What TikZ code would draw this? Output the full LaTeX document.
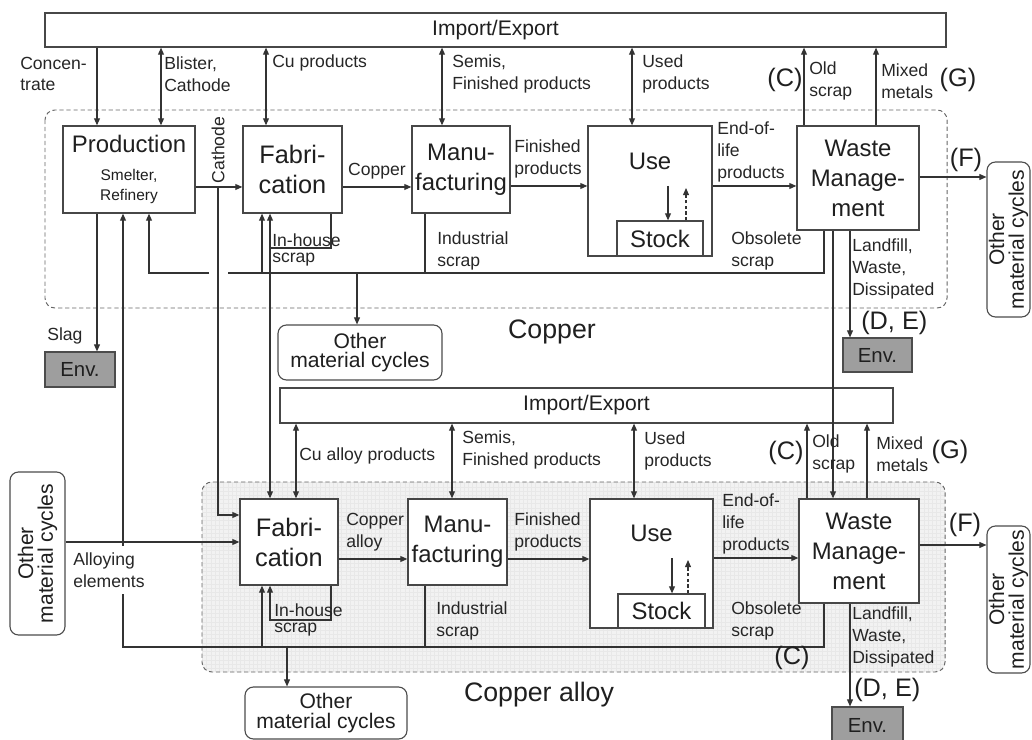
\documentclass[tikz,border=0pt]{standalone}
\usepackage{fontspec}
\setmainfont{Liberation Sans}
\usetikzlibrary{arrows.meta,patterns}
\newlength\pxu
\setlength\pxu{0.025cm}
\newcommand{\fbig}{\fontsize{17}{21.3}\selectfont}
\newcommand{\ffab}{\fontsize{18}{21.3}\selectfont}
\newcommand{\flbl}{\fontsize{12.5}{15.5}\selectfont}
\newcommand{\fhouse}{\fontsize{12.5}{11.5}\selectfont}
\newcommand{\fsm}{\fontsize{11}{14}\selectfont}
\newcommand{\fcyc}{\fontsize{15}{14}\selectfont}
\newcommand{\fenv}{\fontsize{14.5}{17}\selectfont}
\newcommand{\fref}{\fontsize{18}{20}\selectfont}
\newcommand{\ftitle}{\fontsize{19}{22}\selectfont}
\newcommand{\fie}{\fontsize{15}{18}\selectfont}
\tikzset{
  hd/.tip={Triangle[length=5pt,width=4.2pt]},
  sz/.style 2 args={minimum width=#1*\pxu, minimum height=#2*\pxu},
  blk/.style={draw=black!72, line width=0.9pt, fill=white, align=center,
    inner sep=0pt, font=\fbig, text=black!88},
  iebox/.style={blk, font=\fie},
  envbox/.style={draw=black!70, line width=0.8pt, fill=black!38, inner sep=0pt,
    font=\fenv, text=black!88},
  cyc/.style={draw=black!70, line width=0.8pt, rounded corners=6pt, fill=white,
    align=center, inner sep=0pt, font=\fcyc, text=black!88},
  zone/.style={draw=black!60, line width=0.7pt, dash pattern=on 3pt off 2pt,
    rounded corners=7pt},
  zonefill/.style={preaction={fill=black!5}, pattern=grid, pattern color=black!9},
  ln/.style={line width=0.75pt, draw=black!80},
  arr/.style={ln, -hd},
  darr/.style={ln, hd-hd},
  dsharr/.style={ln, -hd, dash pattern=on 2.5pt off 1.5pt},
  lbl/.style={font=\flbl, align=left, anchor=west, inner sep=0pt, text=black!85},
  ref/.style={font=\fref, inner sep=0pt, text=black!88},
  sect/.style={font=\ftitle, inner sep=0pt, text=black!88},
}

\begin{document}
\begin{tikzpicture}[x=0.025cm, y=-0.025cm]
\useasboundingbox (0,0) rectangle (1032,740);
\clip (0,0) rectangle (1032,740);

% system boundaries
\draw[zone] (45,110) rectangle (947,308);
\draw[zone, zonefill] (202,482) rectangle (945,672);

% copper cycle
\node[iebox, sz={901}{34}] (ie1) at (495.5,30) {Import/Export};
\node[blk, sz={132}{87}] (prod) at (129,169.5) {Production\\[-1.5pt]{\fsm Smelter,}\\[-7pt]{\fsm Refinery}};
\node[blk, font=\ffab, sz={99}{87}] (fab1) at (292.5,169.5) {Fabri-\\cation};
\node[blk, sz={98}{87}] (man1) at (461,169.5) {Manu-\\facturing};
\node[blk, sz={124}{130}, text height=8.5pt, text depth=39pt] (use1) at (650,191) {Use};
\node[blk, sz={86}{35}] (stock1) at (660,238.5) {Stock};
\node[blk, sz={122}{104}] (waste1) at (858,178) {Waste\\Manage-\\ment};
\node[envbox, sz={70}{35}] (env1) at (80,369.5) {Env.};
\node[envbox, sz={69}{34}] (env2) at (877.5,355) {Env.};
\node[cyc, sz={164}{55}] (omc1) at (360,352.5) {Other\\material cycles};
\node[cyc, rotate=90, sz={155}{43}] (omc2) at (1008.5,239.5) {Other\\material cycles};

% copper alloy cycle
\node[iebox, sz={613}{35}] (ie2) at (586.5,405.5) {Import/Export};
\node[blk, font=\ffab, sz={98}{86}] (fab2) at (289,542) {Fabri-\\cation};
\node[blk, sz={99}{86}] (man2) at (457.5,542) {Manu-\\facturing};
\node[blk, sz={123}{129}, text height=8.5pt, text depth=40pt] (use2) at (651.5,563.5) {Use};
\node[blk, sz={87}{34}] (stock2) at (661.5,611) {Stock};
\node[blk, sz={120}{104}] (waste2) at (859,551) {Waste\\Manage-\\ment};
\node[envbox, sz={71}{36}] (env3) at (867.5,725) {Env.};
\node[cyc, rotate=90, sz={163}{55}] (omc3) at (37.5,553.5) {Other\\material cycles};
\node[cyc, sz={162}{52}] (omc4) at (326,713) {Other\\material cycles};
\node[cyc, rotate=90, sz={147}{43}] (omc5) at (1008.5,599.5) {Other\\material cycles};

\coordinate (cat) at (218,187);
\coordinate (s1) at (228,273);
\coordinate (s2) at (209,273);
\coordinate (u1) at (668,186);
\coordinate (u2) at (686,188);
\coordinate (u3) at (672,558);
\coordinate (u4) at (688,560);

% flows, copper
\draw[arr] (ie1.south -| 97,0) -- (prod.north -| 97,0);
\draw[darr] (ie1.south -| 161,0) -- (prod.north -| 161,0);
\draw[darr] (ie1.south -| 266,0) -- (fab1.north -| 266,0);
\draw[darr] (ie1.south -| 442,0) -- (man1.north -| 442,0);
\draw[darr] (ie1.south -| 632,0) -- (use1.north -| 632,0);
\draw[arr] (waste1.north -| 804,0) -- (ie1.south -| 804,0);
\draw[arr] (waste1.north -| 876,0) -- (ie1.south -| 876,0);
\draw[arr] (prod.east |- cat) -- (fab1.west |- cat);
\draw[arr] (fab1.east |- cat) -- (man1.west |- cat);
\draw[arr] (man1.east |- u1) -- (use1.west |- u1);
\draw[arr] (use1.east |- u1) -- (waste1.west |- u1);
\draw[arr] (waste1.east |- 0,177) -- (omc2.north |- 0,177);
\draw[arr] (u1) -- (stock1.north -| u1);
\draw[dsharr] (stock1.north -| u2) -- (u2);
\draw[arr] (waste1.south -| 850,0) -- (env2.north -| 850,0);
\draw[arr] (waste1.south -| 833,0) -- (waste2.north -| 833,0);
\draw[ln] (waste1.south -| 824,0) |- (s1);
\draw[arr] (s2) -| (prod.south -| 149,0);
\draw[ln] (man1.south -| 425,0) -- (425,273);
\draw[arr] (262,273) -- (fab1.south -| 262,0);
\draw[ln] (fab1.south -| 331,0) |- (270,248);
\draw[darr] (fab1.south -| 270,0) -- (fab2.north -| 270,0);
\draw[arr] (357,273) -- (omc1.north -| 357,0);
\draw[arr] (prod.south -| 97,0) -- (env1.north -| 97,0);
\draw[arr] (cat) |- (fab2.west |- 0,515);

% flows, copper alloy
\draw[darr] (ie2.south -| 296,0) -- (fab2.north -| 296,0);
\draw[darr] (ie2.south -| 452,0) -- (man2.north -| 452,0);
\draw[darr] (ie2.south -| 634,0) -- (use2.north -| 634,0);
\draw[arr] (waste2.north -| 807,0) -- (ie2.south -| 807,0);
\draw[arr] (waste2.north -| 867,0) -- (ie2.south -| 867,0);
\draw[arr] (fab2.east |- 0,559) -- (man2.west |- 0,559);
\draw[arr] (man2.east |- 0,559) -- (use2.west |- 0,559);
\draw[arr] (use2.east |- 0,558) -- (waste2.west |- 0,558);
\draw[arr] (waste2.east |- 0,545) -- (omc5.north |- 0,545);
\draw[arr] (u3) -- (stock2.north -| u3);
\draw[dsharr] (stock2.north -| u4) -- (u4);
\draw[arr] (waste2.south -| 850,0) -- (env3.north -| 850,0);
\draw[arr] (waste2.south -| 824,0) |- (123,647) -- (prod.south -| 123,0);
\draw[ln] (man2.south -| 425,0) -- (425,647);
\draw[arr] (262,647) -- (fab2.south -| 262,0);
\draw[arr] (fab2.south -| 331,0) |- (270,620) -- (fab2.south -| 270,0);
\draw[arr] (287,647) -- (omc4.north -| 287,0);

% labels, copper
\node[lbl] (lconc) at (20,74) {Concen-\\trate};
\node[lbl] (lblis) at (164,74) {Blister,\\Cathode};
\node[lbl] (lcup) at (272,63) {Cu products};
\node[lbl] (lsemi1) at (452,74) {Semis,\\Finished products};
\node[lbl] (lused1) at (642,74) {Used\\products};
\node[ref] (rc1) at (785,80) {(C)};
\node[lbl] (lold1) at (809,81) {Old\\scrap};
\node[lbl] (lmix1) at (881,81) {Mixed\\metals};
\node[ref] (rg1) at (958,80) {(G)};
\node[lbl, rotate=90, anchor=center] (lcath) at (218,150) {Cathode};
\node[lbl, anchor=center] (lcop) at (377,171) {Copper};
\node[lbl] (lfin1) at (514,159) {Finished\\products};
\node[lbl] (leol1) at (717,152) {End-of-\\life\\products};
\node[ref] (rf1) at (966,160) {(F)};
\node[lbl, font=\fhouse] (lhouse1) at (272,250) {In-house\\scrap};
\node[lbl] (lind1) at (437,251) {Industrial\\scrap};
\node[lbl] (lobs1) at (731,251) {Obsolete\\scrap};
\node[lbl] (lland1) at (852,269) {Landfill,\\Waste,\\Dissipated};
\node[ref, anchor=west] (rde1) at (861,323) {(D, E)};
\node[lbl] (lslag) at (47,336) {Slag};
\node[sect] (tcop) at (552,332) {Copper};

% labels, copper alloy
\node[lbl] (lcua) at (299,456) {Cu alloy products};
\node[lbl] (lsemi2) at (462,450) {Semis,\\Finished products};
\node[lbl] (lused2) at (644,451) {Used\\products};
\node[ref] (rc2) at (786,453) {(C)};
\node[lbl] (lold2) at (812,454) {Old\\scrap};
\node[lbl] (lmix2) at (876,454) {Mixed\\metals};
\node[ref] (rg2) at (950,452) {(G)};
\node[lbl, fill=white, inner ysep=5pt] (lalloy) at (73,570) {Alloying\\elements};
\draw[arr] (omc3.south |- 0,542) -- (fab2.west |- 0,542);
\node[lbl] (lcopa) at (346,532) {Copper\\alloy};
\node[lbl] (lfin2) at (514,532) {Finished\\products};
\node[lbl] (leol2) at (722,524) {End-of-\\life\\products};
\node[ref] (rf2) at (965,525) {(F)};
\node[lbl, font=\fhouse] (lhouse2) at (274,620) {In-house\\scrap};
\node[lbl] (lind2) at (436,621) {Industrial\\scrap};
\node[lbl] (lobs2) at (731,621) {Obsolete\\scrap};
\node[ref] (rc3) at (792,658) {(C)};
\node[lbl] (lland2) at (852,637) {Landfill,\\Waste,\\Dissipated};
\node[ref, anchor=west] (rde2) at (854,690) {(D, E)};
\node[sect] (talloy) at (539,695) {Copper alloy};
\end{tikzpicture}
\end{document}
